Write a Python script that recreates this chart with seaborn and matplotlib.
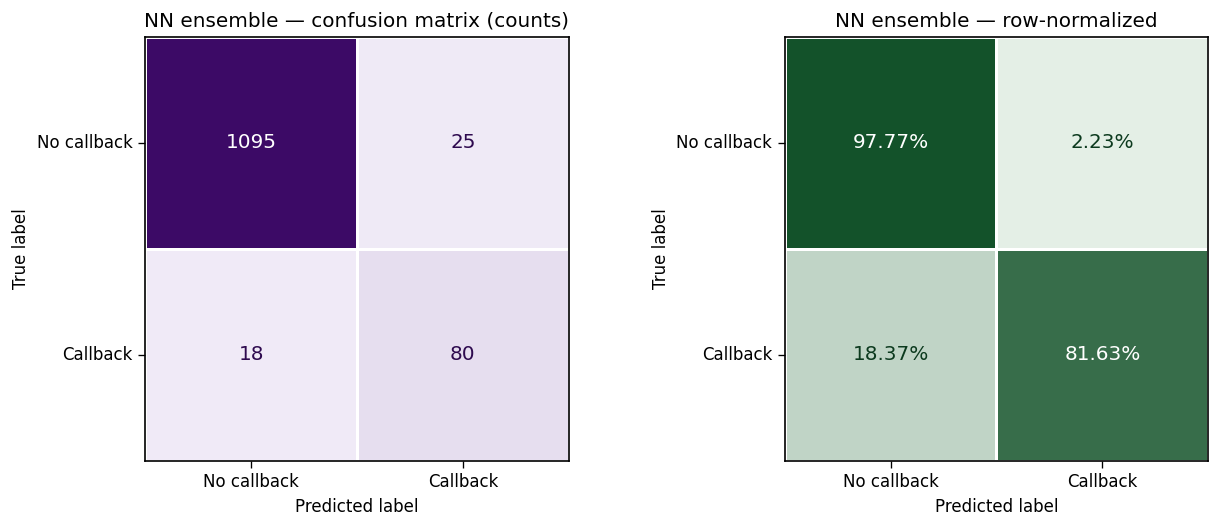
import numpy as np
import matplotlib
matplotlib.use("Agg")
import matplotlib.pyplot as plt
import seaborn as sns

# data
labels = ["No callback", "Callback"]
counts_row_no = [1095, 25]
counts_row_yes = [18, 80]

counts = np.array([counts_row_no, counts_row_yes])
norm = counts / counts.sum(axis=1, keepdims=True)

purple_cmap = sns.blend_palette(["#f3eef9", "#3c0a66"], as_cmap=True)
green_cmap = sns.blend_palette(["#e8f2ea", "#0f4f26"], as_cmap=True)

fig = plt.figure(figsize=(10.17, 4.4), dpi=120)
ax1 = fig.add_axes([0.119, 0.127, 0.347, 0.803])
ax2 = fig.add_axes([0.643, 0.127, 0.347, 0.803])

sns.heatmap(counts, ax=ax1, cmap=purple_cmap, vmin=0, vmax=counts.max(),
            annot=True, fmt="d", cbar=False, linewidths=1.6, linecolor="white",
            annot_kws={"fontsize": 12}, xticklabels=labels, yticklabels=labels)
pct = np.array([[f"{v * 100:.2f}%" for v in row] for row in norm])
sns.heatmap(norm, ax=ax2, cmap=green_cmap, vmin=0, vmax=1,
            annot=pct, fmt="", cbar=False, linewidths=1.6, linecolor="white",
            annot_kws={"fontsize": 12}, xticklabels=labels, yticklabels=labels)

# text colours like the reference
for t, v in zip(ax1.texts, counts.ravel()):
    t.set_color("white" if v > counts.max() / 2 else "#2e0a4f")
for t, v in zip(ax2.texts, norm.ravel()):
    t.set_color("white" if v > 0.5 else "#0c3a1e")

ax1.set_title("NN ensemble — confusion matrix (counts)", fontsize=12)
ax2.set_title("NN ensemble — row-normalized", fontsize=12)
for ax in (ax1, ax2):
    ax.set_xlabel("Predicted label")
    ax.set_ylabel("True label")
    ax.tick_params(axis="y", rotation=0)
    ax.tick_params(length=4)
    for s in ax.spines.values():
        s.set_visible(True)
        s.set_color("black")
        s.set_linewidth(1)

fig.savefig("out.png", dpi=120)
